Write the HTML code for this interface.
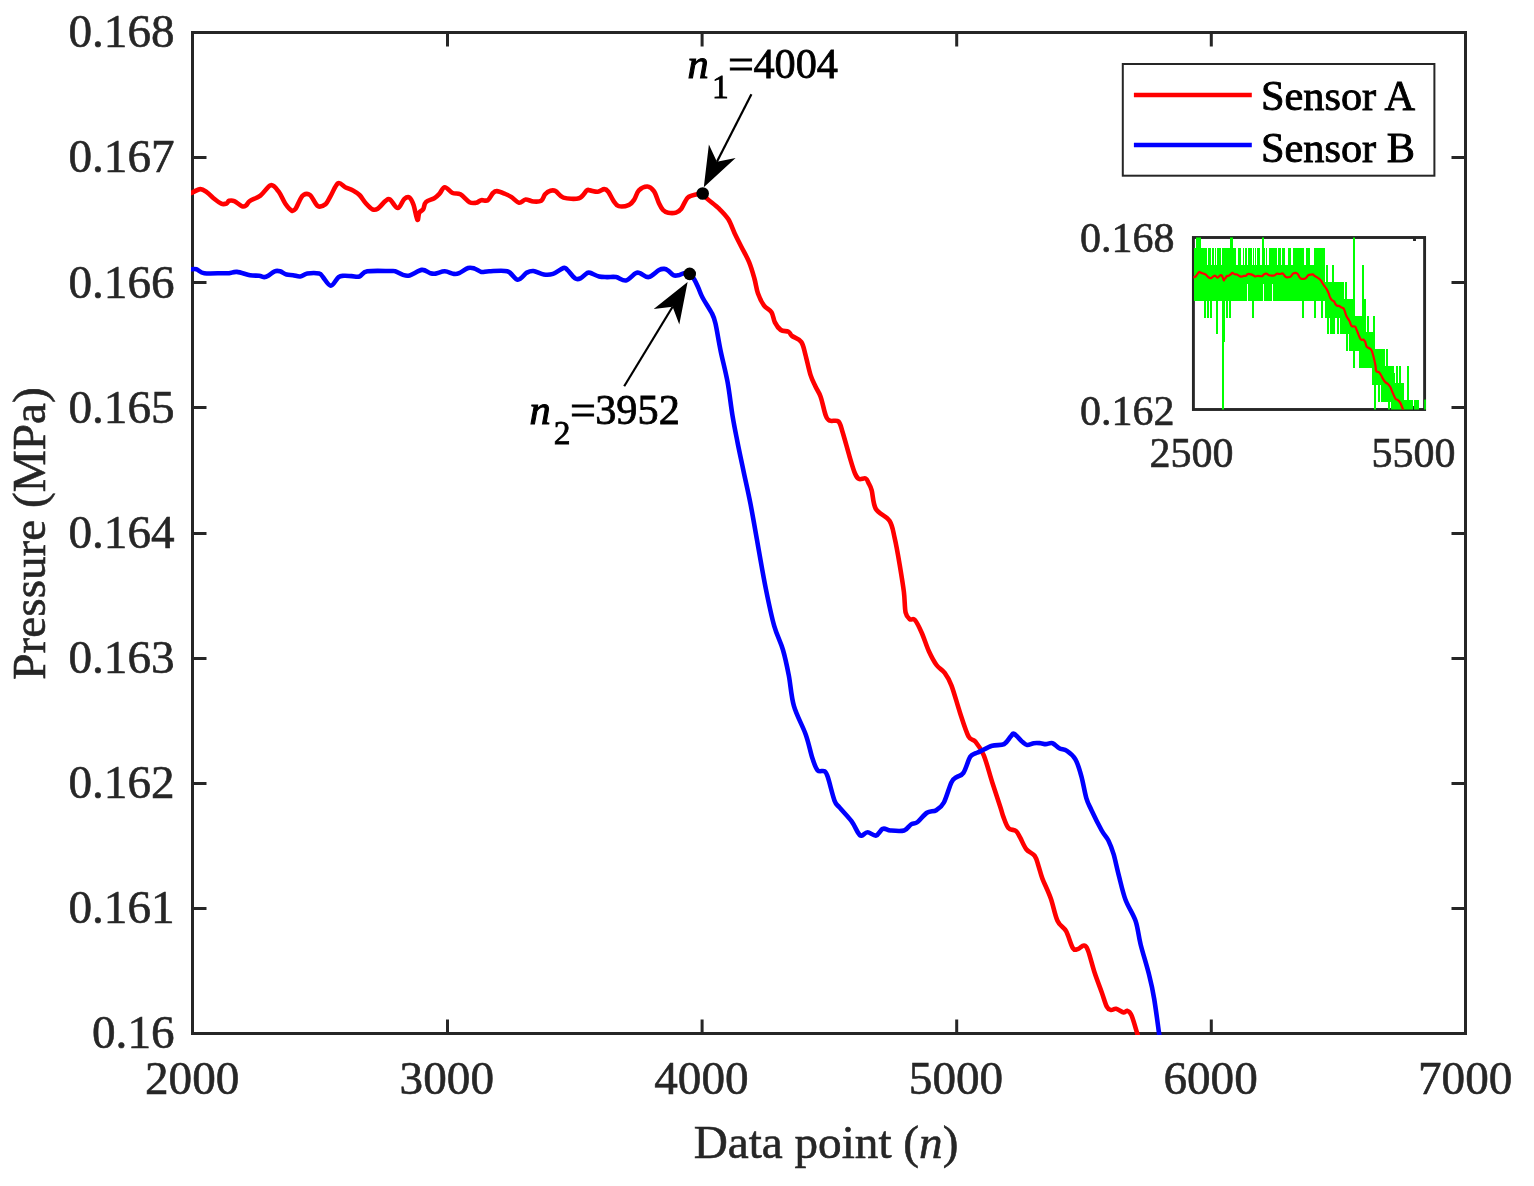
<!DOCTYPE html>
<html lang="en"><head><meta charset="utf-8"><title>Pressure vs data point</title>
<style>html,body{margin:0;padding:0;background:#fff}svg{display:block}</style>
</head><body>
<svg width="1534" height="1186" viewBox="0 0 1534 1186" font-family="'Liberation Serif', serif">
<rect width="1534" height="1186" fill="#fff"/>
<defs>
<clipPath id="cm"><rect x="191.0" y="31.0" width="1276.0" height="1004.0"/></clipPath>
<clipPath id="ci"><rect x="1193.4" y="237.5" width="231.2" height="172.0"/></clipPath>
</defs>
<g stroke="#262626" stroke-width="3.0" fill="none" stroke-linecap="butt">
<rect x="192.5" y="32.5" width="1273.0" height="1001.0"/>
<path d="M447.50 1033.5v-14.0M447.50 32.5v14.0M702.10 1033.5v-14.0M702.10 32.5v14.0M956.70 1033.5v-14.0M956.70 32.5v14.0M1211.30 1033.5v-14.0M1211.30 32.5v14.0M192.5 157.50h14.0M1465.5 157.50h-14.0M192.5 282.50h14.0M1465.5 282.50h-14.0M192.5 407.50h14.0M1465.5 407.50h-14.0M192.5 533.50h14.0M1465.5 533.50h-14.0M192.5 658.50h14.0M1465.5 658.50h-14.0M192.5 783.50h14.0M1465.5 783.50h-14.0M192.5 908.50h14.0M1465.5 908.50h-14.0"/>
</g>
<g clip-path="url(#cm)" fill="none" stroke-linejoin="round" stroke-linecap="butt">
<path d="M189.0 194.0C189.4 193.8 189.4 193.8 191.3 193.0C193.2 192.2 197.8 189.2 200.4 189.1C203.0 189.0 204.8 190.9 207.0 192.4C209.2 193.9 211.1 196.3 213.5 198.2C215.9 200.1 219.1 202.8 221.3 203.7C223.5 204.6 225.2 204.0 226.5 203.5C227.8 203.0 227.8 201.2 229.1 200.8C230.4 200.4 232.1 200.2 234.3 201.1C236.5 202.0 240.2 205.6 242.2 206.3C244.2 207.0 244.8 206.3 246.1 205.4C247.4 204.5 247.6 202.4 250.0 200.8C252.4 199.2 256.9 198.2 260.4 195.6C263.9 193.0 267.8 185.8 270.8 185.2C273.9 184.5 276.3 188.6 278.7 191.7C281.1 194.8 283.0 200.3 285.2 203.5C287.4 206.7 290.0 209.7 291.7 210.6C293.4 211.5 294.3 210.3 295.6 208.7C296.9 207.1 298.2 203.1 299.5 200.8C300.8 198.5 301.6 196.0 303.4 195.0C305.1 194.0 307.6 193.2 310.0 195.0C312.4 196.8 315.2 204.6 317.8 206.1C320.4 207.6 323.4 205.8 325.6 204.1C327.8 202.3 328.7 199.1 330.8 195.6C332.9 192.1 335.6 184.6 338.0 183.2C340.4 181.8 342.7 186.0 345.2 187.2C347.7 188.4 350.6 189.1 353.0 190.4C355.4 191.7 357.3 192.8 359.5 195.0C361.7 197.2 363.8 201.1 366.0 203.5C368.2 205.9 370.6 208.4 372.5 209.3C374.4 210.2 375.5 210.1 377.7 208.7C379.9 207.3 383.6 202.3 385.6 200.8C387.7 199.3 388.0 198.3 390.0 199.5C392.0 200.7 395.4 208.1 397.8 208.0C400.2 207.9 402.3 200.6 404.3 198.9C406.3 197.2 408.1 196.6 409.6 197.6C411.1 198.6 412.2 201.1 413.5 204.8C414.8 208.5 416.4 218.5 417.4 219.8C418.4 221.1 418.3 214.3 419.3 212.6C420.3 210.8 422.1 211.0 423.2 209.3C424.3 207.6 424.0 204.0 425.9 202.2C427.8 200.3 432.0 199.6 434.3 198.2C436.6 196.8 437.8 195.5 439.5 193.7C441.2 191.9 442.6 187.3 444.8 187.2C447.0 187.1 450.0 191.8 452.6 193.0C455.2 194.2 457.6 192.8 460.4 194.3C463.2 195.8 466.9 200.8 469.5 202.2C472.1 203.6 474.0 203.1 476.0 202.8C478.0 202.5 479.3 200.6 481.3 200.2C483.3 199.8 485.9 201.4 487.8 200.2C489.8 199.0 491.5 194.5 493.0 193.0C494.5 191.5 494.9 191.0 496.9 191.1C498.8 191.2 502.3 192.7 504.7 193.7C507.1 194.7 508.8 195.4 511.2 196.9C513.6 198.4 516.7 202.4 519.1 202.8C521.5 203.2 523.2 199.7 525.6 199.5C528.0 199.3 530.8 201.3 533.4 201.5C536.0 201.7 539.2 202.0 541.2 200.8C543.2 199.6 543.6 196.0 545.1 194.3C546.6 192.6 548.6 191.2 550.4 190.7C552.1 190.2 553.4 189.9 555.6 191.1C557.8 192.2 559.5 196.4 563.4 197.6C567.3 198.8 575.1 199.4 579.0 198.2C582.9 197.0 585.1 191.7 586.9 190.4C588.7 189.1 588.2 190.2 590.0 190.4C591.8 190.6 595.4 191.9 597.8 191.7C600.2 191.5 602.5 189.1 604.3 189.1C606.0 189.1 606.8 189.8 608.3 191.7C609.8 193.6 611.8 198.4 613.5 200.8C615.2 203.2 616.1 205.4 618.7 206.1C621.3 206.8 626.5 205.9 629.1 204.8C631.7 203.7 632.7 201.9 634.3 199.5C635.9 197.1 636.7 192.6 638.9 190.4C641.1 188.2 644.9 186.4 647.4 186.5C649.9 186.6 651.9 188.3 653.9 191.1C655.9 193.9 657.6 200.3 659.1 203.5C660.6 206.7 661.5 208.4 663.0 210.0C664.5 211.6 666.0 212.4 668.2 212.8C670.4 213.2 673.8 213.3 676.0 212.6C678.2 211.9 679.3 211.2 681.3 208.7C683.3 206.2 685.2 200.0 687.8 197.6C690.4 195.2 694.4 195.0 696.9 194.3C699.4 193.6 701.1 192.6 702.8 193.4C704.5 194.2 704.6 196.4 707.3 198.9C710.0 201.4 715.6 205.3 719.1 208.7C722.6 212.1 725.6 215.0 728.2 219.1C730.8 223.2 732.5 228.8 734.7 233.4C736.9 238.0 738.8 241.7 741.2 246.5C743.6 251.3 746.9 256.8 749.1 262.1C751.3 267.4 752.9 273.2 754.4 278.5C755.9 283.8 756.4 289.1 758.0 293.6C759.6 298.1 761.6 302.3 763.9 305.4C766.1 308.5 769.7 309.4 771.5 312.2C773.3 315.0 773.4 319.4 774.9 322.4C776.4 325.4 778.5 328.4 780.8 330.0C783.1 331.6 786.6 330.7 788.5 331.7C790.4 332.7 789.8 334.2 791.9 335.9C794.0 337.6 799.0 338.8 801.2 341.9C803.5 345.0 803.9 349.1 805.4 354.6C806.9 360.1 808.8 369.5 810.5 374.9C812.2 380.3 813.9 383.1 815.6 386.8C817.3 390.5 819.0 392.1 820.7 396.9C822.4 401.7 824.2 411.6 825.8 415.6C827.3 419.6 827.9 419.7 830.0 420.7C832.1 421.7 836.4 419.5 838.5 421.5C840.6 423.5 840.9 426.7 842.7 432.5C844.5 438.3 847.5 449.5 849.5 456.3C851.5 463.1 853.4 469.7 855.0 473.5C856.6 477.3 857.2 478.2 859.0 479.0C860.8 479.8 864.1 477.8 865.7 478.5C867.3 479.2 867.5 481.0 868.5 483.0C869.5 485.0 870.5 486.0 871.7 490.3C872.9 494.6 872.9 503.9 875.9 509.0C878.9 514.1 886.4 516.0 889.5 520.8C892.6 525.6 892.9 530.4 894.6 537.8C896.3 545.1 898.2 555.9 899.7 564.9C901.2 573.9 902.9 584.1 903.9 592.0C904.9 599.9 904.6 607.9 905.6 612.4C906.6 616.9 908.2 617.9 909.8 619.2C911.3 620.5 912.9 617.8 914.9 620.0C916.9 622.2 919.4 627.5 921.7 632.7C924.1 638.0 926.5 646.1 929.0 651.5C931.5 656.9 933.9 661.4 936.5 665.0C939.1 668.6 942.2 669.5 944.7 672.9C947.2 676.3 949.0 679.0 951.5 685.6C954.0 692.2 957.2 704.2 960.0 712.7C962.8 721.2 966.0 731.6 968.5 736.4C971.0 741.2 972.8 738.4 975.3 741.5C977.8 744.6 980.9 748.3 983.7 755.1C986.5 761.9 989.4 773.5 992.2 782.2C995.0 790.9 998.5 801.4 1000.4 807.2C1002.3 813.0 1002.1 813.4 1003.4 816.9C1004.7 820.4 1006.3 825.6 1008.4 828.0C1010.5 830.4 1014.0 829.4 1016.0 831.0C1018.0 832.6 1018.5 834.7 1020.2 837.7C1021.9 840.7 1023.9 846.2 1026.3 849.2C1028.7 852.2 1032.7 853.1 1034.7 855.9C1036.7 858.7 1037.2 862.2 1038.5 866.0C1039.8 869.8 1040.4 873.2 1042.4 878.6C1044.5 884.0 1048.3 891.4 1050.8 898.5C1053.3 905.6 1055.0 915.5 1057.6 921.0C1060.1 926.5 1063.5 926.7 1066.1 931.2C1068.6 935.7 1070.9 945.1 1072.9 948.1C1074.9 951.1 1076.2 949.4 1078.0 949.0C1079.8 948.6 1082.2 945.3 1083.9 945.6C1085.6 945.9 1086.3 946.0 1088.1 950.7C1089.9 955.4 1092.6 966.7 1094.9 973.6C1097.2 980.5 1099.7 986.7 1101.7 992.2C1103.7 997.7 1105.2 1003.6 1106.8 1006.6C1108.3 1009.6 1109.5 1009.6 1111.0 1010.0C1112.5 1010.4 1114.0 1008.4 1116.1 1008.8C1118.2 1009.2 1121.9 1012.2 1123.7 1012.5C1125.5 1012.8 1125.8 1010.4 1127.1 1010.8C1128.4 1011.2 1129.7 1011.3 1131.4 1015.1C1133.1 1018.9 1135.7 1028.5 1137.3 1033.7C1138.9 1038.9 1140.4 1044.0 1141.0 1046.0" stroke="#ff0000" stroke-width="4.6"/>
<path d="M189.0 269.3C189.4 269.3 190.1 269.3 191.3 269.3C192.6 269.3 194.3 268.7 196.5 269.3C198.7 269.9 200.0 272.6 204.3 273.2C208.7 273.8 218.5 273.2 222.6 273.2C226.7 273.2 226.7 273.4 229.1 273.2C231.5 273.0 233.4 271.6 236.9 271.9C240.4 272.2 246.3 274.5 250.0 275.2C253.7 275.9 256.7 275.5 259.1 275.8C261.5 276.1 262.8 277.1 264.3 277.1C265.8 277.1 266.5 276.8 268.2 275.8C269.9 274.8 272.7 272.1 274.7 271.3C276.7 270.6 278.0 270.8 280.0 271.3C282.0 271.8 284.3 273.9 286.5 274.5C288.7 275.1 290.7 274.9 293.0 275.2C295.3 275.5 297.8 276.8 300.2 276.5C302.6 276.2 304.1 274.1 307.3 273.6C310.5 273.1 316.5 273.0 319.1 273.6C321.7 274.2 321.1 275.1 323.0 277.1C324.9 279.1 328.2 285.6 330.8 285.6C333.4 285.6 336.4 278.7 338.6 277.1C340.8 275.5 341.6 276.0 343.8 275.8C346.0 275.6 349.1 276.0 351.7 276.1C354.3 276.2 356.9 277.3 359.5 276.5C362.1 275.7 362.2 272.2 367.3 271.3C372.4 270.4 385.4 271.0 390.0 271.0C394.6 271.0 393.0 270.7 395.2 271.3C397.4 271.9 400.6 274.2 403.0 274.9C405.4 275.6 406.5 276.2 409.6 275.4C412.8 274.6 418.4 270.3 421.9 269.9C425.4 269.5 428.1 272.6 430.4 273.2C432.7 273.8 433.2 273.9 435.6 273.6C438.0 273.3 441.8 271.2 444.8 271.3C447.9 271.4 451.5 273.6 453.9 273.9C456.3 274.2 456.7 274.2 459.1 273.2C461.5 272.2 465.6 268.8 468.2 268.0C470.8 267.2 472.5 268.0 474.7 268.6C476.9 269.2 478.9 271.4 481.3 271.9C483.7 272.3 484.8 271.4 489.1 271.3C493.4 271.2 502.5 269.9 507.3 271.3C512.1 272.7 514.5 279.5 517.8 279.7C521.1 279.9 524.3 274.1 526.9 272.6C529.5 271.2 530.6 270.7 533.4 271.0C536.2 271.3 540.5 274.0 543.8 274.5C547.1 275.0 549.7 275.0 553.0 273.9C556.3 272.8 561.0 268.7 563.4 268.0C565.8 267.3 565.3 268.2 567.3 269.9C569.2 271.6 572.9 277.0 575.1 278.4C577.3 279.8 578.4 279.3 580.4 278.4C582.4 277.5 585.3 274.1 586.9 273.2C588.5 272.3 588.0 272.2 590.0 272.8C592.0 273.4 596.3 275.8 599.1 276.5C601.9 277.2 604.2 277.0 607.0 277.1C609.8 277.2 613.0 276.6 616.1 277.1C619.2 277.7 622.6 281.0 625.9 280.4C629.1 279.8 633.2 274.4 635.6 273.2C638.0 272.0 638.0 272.5 640.2 273.2C642.4 273.9 645.6 277.6 648.7 277.1C651.9 276.6 656.5 271.4 659.1 270.0C661.7 268.6 662.8 268.8 664.3 268.9C665.8 269.0 666.7 269.6 668.2 270.6C669.7 271.7 671.6 274.4 673.4 275.2C675.1 276.0 677.0 275.5 678.7 275.2C680.5 274.9 682.1 273.4 683.9 273.2C685.7 273.0 688.0 272.8 689.7 273.9C691.4 274.9 692.9 277.2 694.3 279.5C695.7 281.8 696.8 284.5 698.2 287.5C699.6 290.5 700.2 293.1 702.5 297.5C704.8 301.9 710.0 309.5 712.2 313.9C714.4 318.3 714.2 317.9 715.6 324.1C717.0 330.3 718.7 341.6 720.7 351.2C722.7 360.8 725.5 371.0 727.5 381.7C729.5 392.4 730.8 405.4 732.5 415.6C734.2 425.8 735.8 433.5 737.6 442.7C739.4 451.9 741.4 460.8 743.5 471.0C745.6 481.2 747.9 490.5 750.5 503.9C753.1 517.3 756.5 537.3 759.0 551.4C761.5 565.5 763.3 576.2 765.8 588.6C768.3 601.0 771.3 615.7 774.2 625.9C777.1 636.1 780.6 641.8 783.0 650.0C785.4 658.2 787.0 666.1 788.8 675.4C790.6 684.7 791.1 696.0 793.9 705.9C796.7 715.8 802.7 725.9 805.8 734.7C808.9 743.5 810.5 752.6 812.5 758.5C814.5 764.4 815.6 768.2 817.6 770.3C819.6 772.4 822.7 770.1 824.4 771.2C826.1 772.3 826.1 772.2 827.8 777.1C829.5 782.0 832.6 795.7 834.6 800.8C836.6 805.9 836.9 804.2 839.7 807.6C842.5 811.0 848.4 817.0 851.5 821.2C854.6 825.5 856.6 830.7 858.3 833.1C860.0 835.5 860.2 835.8 861.7 835.6C863.2 835.5 865.2 832.2 867.6 832.2C870.0 832.2 873.6 836.2 876.1 835.6C878.6 835.0 880.5 829.6 882.9 828.8C885.3 827.9 887.0 830.2 890.5 830.5C894.0 830.8 900.7 831.5 904.1 830.5C907.5 829.5 908.5 826.0 910.8 824.6C913.0 823.2 914.9 824.0 917.6 822.0C920.3 820.0 923.8 814.7 926.9 812.7C930.0 810.7 933.5 811.9 936.3 810.2C939.1 808.5 941.4 807.2 943.9 802.5C946.4 797.8 949.4 786.4 951.5 782.2C953.6 778.0 954.6 778.7 956.6 777.1C958.6 775.5 961.1 776.3 963.4 772.9C965.7 769.5 968.2 760.0 970.2 756.8C972.2 753.5 973.6 754.3 975.3 753.4C977.0 752.5 977.5 752.7 980.3 751.4C983.1 750.1 988.2 747.0 992.2 745.8C996.2 744.6 1001.0 745.7 1004.1 744.1C1007.2 742.5 1009.1 738.1 1010.8 736.4C1012.5 734.7 1012.3 733.0 1014.2 733.9C1016.1 734.8 1019.9 739.7 1022.0 741.5C1024.2 743.3 1025.1 744.6 1027.1 744.9C1029.1 745.2 1031.6 743.5 1033.9 743.2C1036.2 742.9 1038.7 743.1 1040.7 743.2C1042.7 743.4 1043.8 744.1 1045.8 744.1C1047.8 744.1 1050.2 742.5 1052.5 743.2C1054.8 743.9 1056.9 747.0 1059.3 748.3C1061.7 749.6 1064.2 749.0 1066.9 750.8C1069.6 752.6 1073.0 755.0 1075.4 759.3C1077.8 763.5 1079.6 769.8 1081.4 776.3C1083.2 782.8 1084.7 792.6 1086.4 798.3C1088.1 803.9 1089.0 804.8 1091.5 810.2C1094.0 815.6 1098.9 825.4 1101.7 830.5C1104.5 835.6 1106.5 836.8 1108.5 840.7C1110.5 844.7 1111.9 848.6 1113.6 854.2C1115.3 859.9 1116.6 867.1 1118.6 874.6C1120.6 882.1 1122.6 891.8 1125.4 899.5C1128.2 907.2 1133.0 913.5 1135.6 921.0C1138.1 928.5 1138.4 935.7 1140.7 944.7C1143.0 953.8 1147.0 966.2 1149.2 975.3C1151.5 984.3 1152.6 989.4 1154.2 999.0C1155.8 1008.6 1157.9 1024.9 1159.0 1032.9C1160.1 1040.9 1160.7 1044.7 1161.0 1047.0" stroke="#0000ff" stroke-width="4.6"/>
</g>
<g fill="#262626" stroke="#262626" stroke-width="0.6" font-size="47.2">
<text x="174.6" y="47.3" text-anchor="end">0.168</text>
<text x="174.6" y="172.4" text-anchor="end">0.167</text>
<text x="174.6" y="297.6" text-anchor="end">0.166</text>
<text x="174.6" y="422.7" text-anchor="end">0.165</text>
<text x="174.6" y="547.8" text-anchor="end">0.164</text>
<text x="174.6" y="672.9" text-anchor="end">0.163</text>
<text x="174.6" y="798.0" text-anchor="end">0.162</text>
<text x="174.6" y="923.2" text-anchor="end">0.161</text>
<text x="174.6" y="1048.3" text-anchor="end">0.16</text>
<text x="192.2" y="1093.9" text-anchor="middle">2000</text>
<text x="446.8" y="1093.9" text-anchor="middle">3000</text>
<text x="701.4" y="1093.9" text-anchor="middle">4000</text>
<text x="956.0" y="1093.9" text-anchor="middle">5000</text>
<text x="1210.6" y="1093.9" text-anchor="middle">6000</text>
<text x="1465.2" y="1093.9" text-anchor="middle">7000</text>
</g>
<g fill="#262626" stroke="#262626" stroke-width="0.6" font-size="47.2">
<text x="826" y="1157.5" text-anchor="middle">Data point (<tspan font-style="italic">n</tspan>)</text>
<text transform="translate(44.8 533.5) rotate(-90)" text-anchor="middle">Pressure (MPa)</text>
</g>
<rect x="1122.8" y="64" width="311.6" height="111.7" fill="#fff" stroke="#262626" stroke-width="2"/>
<path d="M1133.9 95H1251.8" stroke="#ff0000" stroke-width="4.6"/>
<path d="M1133.9 145H1251.8" stroke="#0000ff" stroke-width="4.6"/>
<g fill="#000" stroke="#000" stroke-width="0.9" font-size="42.3">
<text x="1261.0" y="110.0">Sensor A</text>
<text x="1261.0" y="162.0">Sensor B</text>
</g>
<path d="M751.4 94.2L716.9 161.7" stroke="#000" stroke-width="2.2" fill="none"/><path d="M703.8 187.3L708.9 144.4L716.9 161.7L735.6 158.1Z" fill="#000"/>
<path d="M624.2 386.2L672.6 306.7" stroke="#000" stroke-width="2.2" fill="none"/><path d="M687.6 282.1L679.3 324.5L672.6 306.7L653.7 308.9Z" fill="#000"/>
<circle cx="702.7" cy="193.5" r="6.3" fill="#000"/>
<circle cx="689.7" cy="273.9" r="6.3" fill="#000"/>
<g fill="#000" stroke="#000" stroke-width="0.8" font-size="42.3"><text x="687.6" y="77.5" font-style="italic" stroke-width="1.1">n</text><text x="712.0" y="97.9" font-size="33.5">1</text><text transform="translate(728.1 77.5) scale(1.085 1)">=</text><text x="753.4" y="77.5">4004</text></g>
<g fill="#000" stroke="#000" stroke-width="0.8" font-size="42.3"><text x="529.4" y="423.5" font-style="italic" stroke-width="1.1">n</text><text x="553.8" y="443.9" font-size="33.5">2</text><text transform="translate(569.9 423.5) scale(1.085 1)">=</text><text x="595.2" y="423.5">3952</text></g>
<g stroke="#262626" stroke-width="2.9" fill="none">
<rect x="1193.4" y="237.5" width="231.2" height="172.0"/>
<path d="M1414.5 237.5v3.6M1414.5 409.5v-3.6"/>
</g>
<g clip-path="url(#ci)">
<path d="M1194 247.7h2V300.5h-2zM1196 234.5h5V300.5h-5zM1201 247.7h3V300.5h-3zM1204 247.7h2V317.5h-2zM1206 247.7h1V300.5h-1zM1207 264.6h1V317.5h-1zM1208 247.7h1V317.5h-1zM1209 247.7h1V300.5h-1zM1210 247.7h1V317.5h-1zM1211 264.6h1V317.5h-1zM1212 247.7h2V300.5h-2zM1214 264.6h1V300.5h-1zM1215 247.7h1V300.5h-1zM1216 264.6h1V334.4h-1zM1217 247.7h1V334.4h-1zM1218 247.7h3V300.5h-3zM1221 264.6h1V300.5h-1zM1222 247.7h2V412.5h-2zM1224 247.7h1V342.4h-1zM1225 247.7h1V300.5h-1zM1226 247.7h2V317.5h-2zM1228 247.7h1V300.5h-1zM1229 247.7h1V317.5h-1zM1230 234.5h1V317.5h-1zM1231 234.5h2V300.5h-2zM1233 247.7h3V300.5h-3zM1236 264.6h2V300.5h-2zM1238 247.7h3V300.5h-3zM1241 264.6h2V300.5h-2zM1243 247.7h1V300.5h-1zM1244 264.6h1V300.5h-1zM1245 247.7h2V300.5h-2zM1247 264.6h1V283.6h-1zM1248 247.7h4V300.5h-4zM1252 264.6h1V317.5h-1zM1253 247.7h1V317.5h-1zM1254 264.6h1V300.5h-1zM1255 247.7h1V300.5h-1zM1256 264.6h1V300.5h-1zM1257 247.7h3V300.5h-3zM1260 264.6h2V300.5h-2zM1262 234.5h1V300.5h-1zM1263 234.5h1V283.6h-1zM1264 247.7h1V300.5h-1zM1265 264.6h1V300.5h-1zM1266 247.7h1V300.5h-1zM1267 264.6h2V300.5h-2zM1269 247.7h3V300.5h-3zM1272 247.7h1V283.6h-1zM1273 247.7h4V300.5h-4zM1277 264.6h1V300.5h-1zM1278 247.7h3V300.5h-3zM1281 264.6h1V300.5h-1zM1282 247.7h3V300.5h-3zM1285 264.6h3V300.5h-3zM1288 247.7h3V300.5h-3zM1291 264.6h2V300.5h-2zM1293 247.7h9V300.5h-9zM1302 247.7h2V317.5h-2zM1304 264.6h2V300.5h-2zM1306 247.7h4V300.5h-4zM1310 264.6h4V300.5h-4zM1314 247.7h2V317.5h-2zM1316 247.7h5V300.5h-5zM1321 247.7h2V317.5h-2zM1323 247.7h2V300.5h-2zM1325 281.6h1V317.5h-1zM1326 264.6h1V317.5h-1zM1327 264.6h1V334.4h-1zM1328 281.6h1V334.4h-1zM1329 281.6h1V317.5h-1zM1330 281.6h2V334.4h-2zM1332 264.6h2V334.4h-2zM1334 281.6h1V334.4h-1zM1335 281.6h2V317.5h-2zM1337 281.6h2V334.4h-2zM1339 281.6h1V317.5h-1zM1340 281.6h4V334.4h-4zM1344 298.5h1V334.4h-1zM1345 281.6h1V334.4h-1zM1346 281.6h1V351.4h-1zM1347 298.5h1V351.4h-1zM1348 298.5h1V334.4h-1zM1349 298.5h4V351.4h-4zM1353 234.5h2V368.3h-2zM1355 315.5h4V351.4h-4zM1359 315.5h3V368.3h-3zM1362 264.6h2V368.3h-2zM1364 298.5h2V368.3h-2zM1366 332.4h1V368.3h-1zM1367 315.5h2V368.3h-2zM1369 332.4h3V368.3h-3zM1372 332.4h1V385.3h-1zM1373 315.5h1V385.3h-1zM1374 315.5h1V412.5h-1zM1375 349.4h1V412.5h-1zM1376 349.4h2V385.3h-2zM1378 349.4h2V402.2h-2zM1380 349.4h1V385.3h-1zM1381 349.4h4V402.2h-4zM1385 366.3h1V402.2h-1zM1386 349.4h2V402.2h-2zM1388 366.3h2V412.5h-2zM1390 366.3h1V402.2h-1zM1391 366.3h3V412.5h-3zM1394 373.3h1V412.5h-1zM1395 383.3h1V412.5h-1zM1396 366.3h2V412.5h-2zM1398 383.3h1V412.5h-1zM1399 366.3h2V412.5h-2zM1401 383.3h3V412.5h-3zM1404 400.2h3V412.5h-3zM1407 366.3h2V412.5h-2zM1409 400.2h4V412.5h-4zM1414 400.2h5V412.5h-5zM1424 400.2h2V412.5h-2z" fill="#00ff00" shape-rendering="crispEdges"/>
<path d="M1152.6 274.5C1152.7 274.5 1152.8 274.5 1153.3 274.3C1153.9 274.1 1155.4 273.4 1156.2 273.4C1157.0 273.4 1157.6 273.8 1158.2 274.1C1158.9 274.5 1159.5 275.0 1160.3 275.5C1161.0 275.9 1162.0 276.5 1162.7 276.7C1163.4 276.9 1163.9 276.8 1164.3 276.7C1164.7 276.6 1164.7 276.2 1165.1 276.1C1165.5 276.0 1166.1 275.9 1166.7 276.1C1167.4 276.3 1168.6 277.2 1169.2 277.3C1169.8 277.5 1170.0 277.3 1170.4 277.1C1170.8 276.9 1170.9 276.4 1171.6 276.1C1172.4 275.7 1173.8 275.5 1174.9 274.9C1176.0 274.3 1177.2 272.6 1178.1 272.5C1179.1 272.3 1179.8 273.3 1180.6 274.0C1181.3 274.7 1181.9 276.0 1182.6 276.7C1183.3 277.4 1184.1 278.1 1184.6 278.3C1185.2 278.5 1185.5 278.2 1185.9 277.9C1186.3 277.5 1186.7 276.6 1187.1 276.1C1187.5 275.5 1187.7 275.0 1188.3 274.7C1188.8 274.5 1189.6 274.3 1190.3 274.7C1191.1 275.2 1192.0 276.9 1192.8 277.3C1193.6 277.6 1194.5 277.2 1195.2 276.8C1195.9 276.4 1196.2 275.7 1196.8 274.9C1197.5 274.1 1198.3 272.4 1199.1 272.0C1199.8 271.7 1200.5 272.7 1201.3 272.9C1202.1 273.2 1203.0 273.4 1203.8 273.7C1204.5 274.0 1205.1 274.2 1205.8 274.7C1206.5 275.2 1207.1 276.1 1207.8 276.7C1208.5 277.2 1209.2 277.8 1209.8 278.0C1210.4 278.2 1210.8 278.2 1211.5 277.9C1212.1 277.5 1213.3 276.4 1213.9 276.1C1214.6 275.7 1214.7 275.5 1215.3 275.8C1215.9 276.0 1217.0 277.7 1217.7 277.7C1218.5 277.7 1219.1 276.0 1219.7 275.6C1220.4 275.2 1220.9 275.1 1221.4 275.3C1221.9 275.6 1222.2 276.1 1222.6 277.0C1223.0 277.8 1223.5 280.1 1223.8 280.4C1224.1 280.7 1224.1 279.2 1224.4 278.8C1224.7 278.4 1225.3 278.4 1225.6 278.0C1226.0 277.6 1225.9 276.8 1226.5 276.4C1227.1 276.0 1228.4 275.8 1229.1 275.5C1229.8 275.1 1230.2 274.9 1230.7 274.4C1231.3 274.0 1231.7 273.0 1232.4 272.9C1233.0 272.9 1234.0 274.0 1234.8 274.3C1235.6 274.5 1236.4 274.2 1237.2 274.6C1238.1 274.9 1239.3 276.1 1240.1 276.4C1240.9 276.7 1241.5 276.6 1242.1 276.5C1242.7 276.4 1243.1 276.0 1243.7 275.9C1244.4 275.8 1245.2 276.2 1245.8 275.9C1246.4 275.7 1246.9 274.6 1247.4 274.3C1247.9 273.9 1248.0 273.8 1248.6 273.8C1249.2 273.9 1250.3 274.2 1251.0 274.4C1251.8 274.7 1252.3 274.8 1253.1 275.2C1253.8 275.5 1254.8 276.4 1255.5 276.5C1256.3 276.6 1256.8 275.8 1257.6 275.8C1258.3 275.7 1259.2 276.2 1260.0 276.2C1260.8 276.3 1261.8 276.3 1262.4 276.1C1263.0 275.8 1263.2 275.0 1263.6 274.6C1264.1 274.2 1264.7 273.9 1265.3 273.7C1265.8 273.6 1266.2 273.6 1266.9 273.8C1267.6 274.1 1268.1 275.1 1269.3 275.3C1270.6 275.6 1273.0 275.7 1274.2 275.5C1275.4 275.2 1276.1 274.0 1276.7 273.7C1277.2 273.4 1277.1 273.6 1277.6 273.7C1278.2 273.7 1279.3 274.0 1280.1 274.0C1280.8 273.9 1281.5 273.4 1282.1 273.4C1282.6 273.4 1282.9 273.5 1283.3 274.0C1283.8 274.4 1284.4 275.5 1285.0 276.1C1285.5 276.6 1285.8 277.1 1286.6 277.3C1287.4 277.4 1289.0 277.2 1289.8 277.0C1290.6 276.7 1290.9 276.3 1291.4 275.8C1291.9 275.2 1292.2 274.2 1292.9 273.7C1293.6 273.2 1294.7 272.8 1295.5 272.8C1296.3 272.8 1296.9 273.2 1297.5 273.8C1298.2 274.5 1298.7 276.0 1299.2 276.7C1299.6 277.4 1299.9 277.8 1300.4 278.2C1300.9 278.5 1301.3 278.7 1302.0 278.8C1302.7 278.9 1303.8 278.9 1304.4 278.8C1305.1 278.6 1305.5 278.4 1306.1 277.9C1306.7 277.3 1307.3 275.9 1308.1 275.3C1308.9 274.8 1310.2 274.7 1311.0 274.6C1311.7 274.4 1312.3 274.2 1312.8 274.4C1313.3 274.5 1313.3 275.0 1314.2 275.6C1315.0 276.2 1316.8 277.1 1317.9 277.9C1319.0 278.6 1319.9 279.3 1320.7 280.3C1321.5 281.2 1322.1 282.5 1322.7 283.5C1323.4 284.6 1324.0 285.4 1324.8 286.5C1325.5 287.6 1326.5 288.9 1327.2 290.1C1327.9 291.3 1328.4 292.7 1328.9 293.9C1329.3 295.1 1329.5 296.3 1330.0 297.3C1330.5 298.4 1331.1 299.3 1331.8 300.0C1332.5 300.7 1333.6 300.9 1334.2 301.6C1334.8 302.2 1334.8 303.2 1335.3 303.9C1335.7 304.6 1336.4 305.3 1337.1 305.7C1337.8 306.0 1338.9 305.8 1339.5 306.1C1340.1 306.3 1339.9 306.6 1340.6 307.0C1341.2 307.4 1342.8 307.7 1343.5 308.4C1344.2 309.1 1344.3 310.0 1344.8 311.3C1345.3 312.6 1345.8 314.7 1346.4 316.0C1346.9 317.2 1347.4 317.8 1348.0 318.7C1348.5 319.5 1349.0 319.9 1349.5 321.0C1350.1 322.1 1350.6 324.4 1351.1 325.3C1351.6 326.2 1351.8 326.2 1352.4 326.4C1353.1 326.7 1354.4 326.2 1355.1 326.6C1355.8 327.1 1355.8 327.8 1356.4 329.2C1357.0 330.5 1357.9 333.0 1358.5 334.6C1359.2 336.2 1359.7 337.7 1360.2 338.5C1360.7 339.4 1360.9 339.6 1361.5 339.8C1362.0 340.0 1363.1 339.5 1363.6 339.7C1364.1 339.8 1364.1 340.3 1364.4 340.7C1364.8 341.2 1365.1 341.4 1365.4 342.4C1365.8 343.4 1365.8 345.5 1366.7 346.7C1367.7 347.8 1370.0 348.3 1371.0 349.4C1372.0 350.5 1372.0 351.6 1372.6 353.3C1373.1 355.0 1373.7 357.4 1374.2 359.5C1374.7 361.6 1375.2 363.9 1375.5 365.7C1375.8 367.5 1375.7 369.3 1376.0 370.4C1376.3 371.4 1376.8 371.6 1377.3 371.9C1377.8 372.2 1378.3 371.6 1378.9 372.1C1379.5 372.6 1380.3 373.8 1381.0 375.0C1381.8 376.2 1382.5 378.1 1383.3 379.3C1384.1 380.6 1384.8 381.6 1385.6 382.4C1386.5 383.2 1387.4 383.4 1388.2 384.2C1389.0 385.0 1389.5 385.6 1390.3 387.1C1391.1 388.7 1392.1 391.4 1393.0 393.4C1393.8 395.3 1394.8 397.7 1395.6 398.8C1396.4 399.9 1396.9 399.2 1397.7 400.0C1398.5 400.7 1399.5 401.5 1400.4 403.1C1401.2 404.6 1402.1 407.3 1403.0 409.3C1403.9 411.3 1405.0 413.7 1405.6 415.0C1406.1 416.3 1406.1 416.4 1406.5 417.2C1406.9 418.0 1407.4 419.2 1408.1 419.8C1408.7 420.3 1409.8 420.1 1410.4 420.5C1411.0 420.8 1411.2 421.3 1411.7 422.0C1412.3 422.7 1412.9 423.9 1413.6 424.6C1414.4 425.3 1415.6 425.5 1416.3 426.2C1416.9 426.8 1417.0 427.6 1417.4 428.5C1417.8 429.3 1418.0 430.1 1418.7 431.4C1419.3 432.6 1420.5 434.3 1421.3 435.9C1422.1 437.5 1422.6 439.8 1423.4 441.1C1424.2 442.3 1425.2 442.4 1426.0 443.4C1426.8 444.5 1427.5 446.6 1428.2 447.3C1428.8 448.0 1429.2 447.6 1429.7 447.5C1430.3 447.4 1431.1 446.7 1431.6 446.7C1432.1 446.8 1432.3 446.8 1432.9 447.9C1433.5 449.0 1434.3 451.5 1435.0 453.1C1435.7 454.7 1436.5 456.1 1437.1 457.4C1437.8 458.7 1438.2 460.0 1438.7 460.7C1439.2 461.4 1439.6 461.4 1440.0 461.5C1440.5 461.6 1441.0 461.1 1441.6 461.2C1442.3 461.3 1443.4 462.0 1444.0 462.0C1444.6 462.1 1444.7 461.6 1445.1 461.7C1445.5 461.8 1445.9 461.8 1446.4 462.6C1446.9 463.5 1447.7 465.7 1448.2 466.9C1448.7 468.1 1449.2 469.3 1449.4 469.7" fill="none" stroke="#ff0000" stroke-width="2.2" stroke-linejoin="round"/>
</g>
<rect x="1424.4" y="399.5" width="1.5" height="10" fill="#00ff00"/>
<g fill="#262626" stroke="#262626" stroke-width="0.6" font-size="42.0">
<text x="1174.6" y="252.0" text-anchor="end">0.168</text>
<text x="1174.6" y="425.0" text-anchor="end">0.162</text>
<text x="1191.4" y="467.0" text-anchor="middle">2500</text>
<text x="1413.5" y="467.0" text-anchor="middle">5500</text>
</g>
</svg>
</body></html>
